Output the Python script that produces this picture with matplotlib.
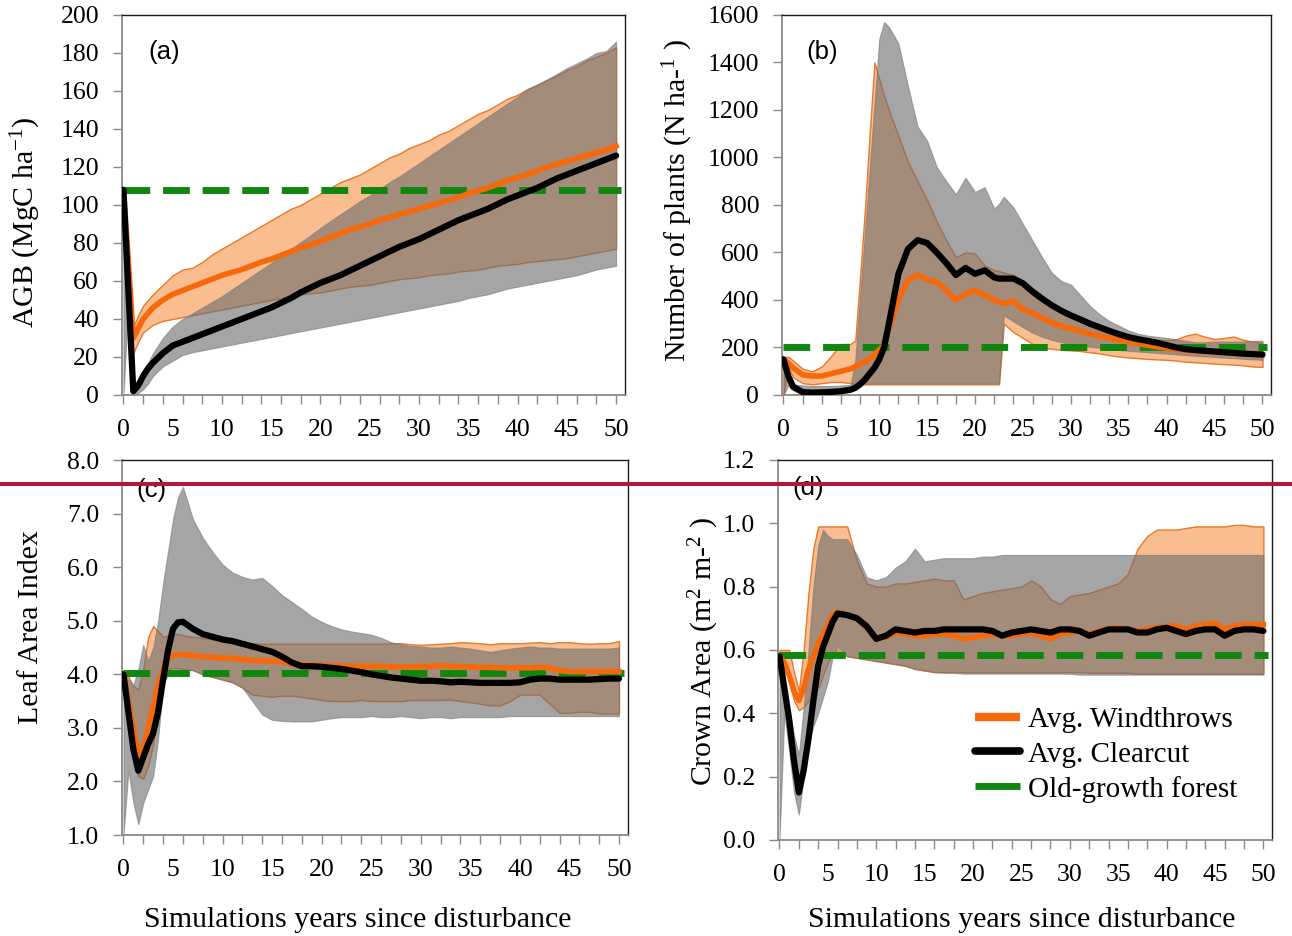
import matplotlib
matplotlib.use("Agg")
import matplotlib.pyplot as plt
from matplotlib.lines import Line2D
from matplotlib.ticker import FixedLocator, FormatStrFormatter

plt.rcParams['font.family'] = ['Liberation Serif', 'DejaVu Serif']
plt.rcParams['mathtext.fontset'] = 'custom'
plt.rcParams['mathtext.rm'] = 'Liberation Serif'
plt.rcParams['mathtext.it'] = 'Liberation Serif:italic'

# ---------------- data ----------------
# (a) above-ground biomass
agb_years = [0, 0.5, 1, 1.5, 2, 2.5, 3] + list(range(4, 51))
agb_clear = [108, 55, 2, 5, 10, 14, 17,
             22, 26, 28, 30, 32, 34, 36, 38, 40, 42, 44, 46,
             48.5, 51, 54, 56.5, 59, 61, 63, 65.5, 68, 70.5,
             73, 75.5, 78, 80, 82, 84.5, 87, 89.5, 92, 94,
             96, 98, 100.5, 103, 105, 107, 109, 111.5, 114, 116,
             118, 120, 122, 124, 126]
agb_clear_hi = [108, 55, 3, 7, 12, 17, 22,
                30, 36, 40, 43, 46, 49, 52, 55.5, 59, 62.5, 66, 69.5,
                73, 77, 80.5, 84, 88, 91.5, 95, 98.5, 102, 105,
                108.5, 112, 115, 118.5, 122, 125.5, 129, 132.5, 136, 139.5,
                143, 146.5, 150, 153.5, 157, 161, 163.5, 166, 169, 172,
                174.5, 177, 180, 181, 186]
agb_clear_lo = [0, 50, 0, 1, 3, 6, 10,
                15, 18, 21, 22.5, 23.5, 24.5, 25.5, 26.5, 27.5, 28.5, 29.5, 30.5,
                31.5, 32.5, 33.5, 34.5, 35.5, 36.5, 37.5, 38.5, 39.5, 40.5,
                41.5, 42.5, 43.5, 44.5, 45.5, 46.5, 47.5, 48.5, 49.5, 51,
                52, 53, 54.5, 56, 57, 58, 59, 60, 61, 62,
                63, 64.5, 66, 67, 68]
agb_wind = [108, 70, 30, 35, 40, 43, 46,
            50, 53, 55, 57, 59, 61, 63, 64.5, 66, 68, 70, 71.5,
            73.5, 75.5, 77.5, 79, 81, 83, 85, 87, 88.5, 90,
            92, 93.5, 95, 96.5, 98, 99.5, 101, 102.5, 104, 106,
            107.5, 109, 111, 113, 114.5, 116, 118, 120, 121.5, 123,
            124.5, 126, 127.5, 129, 131]
agb_wind_hi = [108, 80, 36, 42, 47, 50, 53,
               58, 63, 66, 67, 70, 74, 77, 80, 83, 86, 89, 92,
               95, 98, 100, 103, 106, 109, 112, 114, 116, 119,
               122, 125, 127, 130, 132, 134, 137, 139, 142, 145,
               148, 150, 153, 156, 158, 161, 163, 166, 168, 171,
               173, 176, 178, 180, 183]
agb_wind_lo = [108, 60, 22, 28, 33, 35, 37,
               39, 40, 41, 42, 43, 44, 45, 46, 47, 48, 49, 50,
               51, 52, 53, 53.5, 54, 55, 56, 57, 57.5, 58,
               59, 60, 61, 61.5, 62, 63, 63.5, 64, 65, 65.5,
               66, 67, 68, 68.5, 69, 70, 70.5, 71, 71.5, 72,
               73, 74, 75, 76, 77]
agb_old = 108

# (b) number of plants
plants_years = ([0, 0.5, 1, 2, 3, 4, 5, 6, 7, 7.5, 8, 8.5, 9, 9.5, 10, 10.5, 11]
                + list(range(12, 23)) + [22.5] + list(range(23, 51)))
plants_clear = [150, 80, 35, 12, 10, 11, 13, 16, 22, 30, 45, 65, 90, 115, 150, 200, 300,
                510, 615, 652, 640, 600, 555, 505, 535, 510, 525, 495,
                490,
                490, 490, 470, 435, 405, 378, 355, 335, 318, 300, 285, 270, 256, 244,
                235, 228, 220, 210, 200, 193, 189, 186, 183, 180, 177, 174, 172, 170]
plants_clear_hi = [150, 90, 45, 40, 38, 38, 38, 40, 42, 150, 420, 680, 950, 1230, 1500, 1570, 1550,
                   1480, 1300, 1130, 1070, 960, 900, 845, 915, 855, 875, 785,
                   805,
                   835, 790, 720, 650, 580, 515, 480, 465, 420, 375, 340, 312, 292, 272,
                   258, 250, 245, 240, 235, 228, 222, 222, 225, 225, 225, 225, 228, 228]
plants_clear_lo = [0, 40, 20, 5, 3, 3, 5, 8, 15, 48, 48, 48, 48, 48, 48, 48, 48,
                   48, 48, 48, 48, 48, 48, 48, 48, 48, 48, 48,
                   50,
                   335, 310, 285, 262, 245, 232, 222, 215, 208, 203, 198, 193, 190, 186,
                   183, 180, 177, 174, 171, 168, 165, 162, 160, 157, 155, 152, 150, 148]
plants_wind = [150, 135, 115, 85, 80, 80, 90, 100, 110, 120, 130, 140, 150, 170, 190, 210, 280,
               400, 485, 505, 485, 475, 440, 400, 425, 440, 420, 400,
               392,
               385, 395, 360, 345, 325, 305, 290, 280, 268, 258, 248, 240, 232, 224,
               217, 210, 203, 197, 192, 188, 185, 182, 180, 178, 176, 174, 172, 170]
plants_wind_hi = [160, 160, 145, 110, 100, 120, 165, 215, 215, 230, 500, 780, 1100, 1400, 1330, 1260, 1200,
                  1090, 980, 900, 820, 730, 650, 580, 600, 595, 545, 525,
                  522,
                  515, 505, 480, 450, 420, 390, 360, 335, 312, 292, 276, 262, 250, 242,
                  236, 233, 232, 230, 235, 250, 258, 245, 236, 240, 246, 232, 225, 220]
plants_wind_lo = [0, 120, 75, 50, 45, 50, 55, 55, 50, 45, 45, 45, 45, 45, 45, 45, 45,
                  45, 45, 45, 45, 45, 45, 45, 45, 45, 45, 45,
                  45,
                  300, 265, 240, 215, 200, 195, 190, 188, 185, 180, 175, 168, 162, 158,
                  155, 152, 150, 148, 145, 140, 138, 135, 132, 130, 128, 125, 120, 118]
plants_old = 200

# (c) leaf area index and (d) crown area share one time axis
fine_years = [0, 0.5, 1, 1.5, 2, 2.5, 3, 3.5, 4, 4.5, 5, 5.5, 6] + list(range(7, 51))
lai_clear = [4.0, 3.3, 2.6, 2.2, 2.45, 2.7, 2.9, 3.3, 3.9, 4.45, 4.85, 4.97, 4.98,
             4.85, 4.75, 4.7, 4.65, 4.62, 4.57, 4.52, 4.47, 4.42, 4.33,
             4.22, 4.15, 4.15, 4.14, 4.12, 4.1, 4.07, 4.04, 4.0, 3.97,
             3.94, 3.92, 3.9, 3.88, 3.88, 3.87, 3.85, 3.86, 3.85, 3.84,
             3.84, 3.84, 3.84, 3.85, 3.9, 3.92, 3.92, 3.9, 3.9, 3.9,
             3.9, 3.91, 3.92, 3.92]
lai_clear_hi = [4.0, 3.9, 3.8, 4.1, 4.55, 4.25, 4.5, 5.0, 5.7, 6.3, 6.9, 7.3, 7.5,
                6.9, 6.55, 6.28, 6.05, 5.9, 5.82, 5.77, 5.8, 5.65, 5.48,
                5.35, 5.22, 5.08, 4.98, 4.9, 4.84, 4.8, 4.77, 4.74, 4.68,
                4.6, 4.56, 4.53, 4.52, 4.5, 4.5, 4.52, 4.5, 4.48, 4.45,
                4.42, 4.45, 4.48, 4.5, 4.52, 4.5, 4.5, 4.48, 4.48, 4.48,
                4.48, 4.48, 4.48, 4.5]
lai_clear_lo = [1.0, 2.2, 1.6, 1.2, 1.6, 1.85, 2.1, 2.8, 3.8, 4.0, 4.05, 4.1, 4.1,
                4.08, 4.0, 3.95, 3.9, 3.85, 3.75, 3.5, 3.25, 3.15, 3.13,
                3.12, 3.12, 3.12, 3.15, 3.18, 3.2, 3.2, 3.2, 3.22, 3.2,
                3.2, 3.22, 3.2, 3.18, 3.2, 3.2, 3.18, 3.2, 3.2, 3.2,
                3.2, 3.2, 3.22, 3.22, 3.22, 3.22, 3.22, 3.22, 3.22, 3.22,
                3.22, 3.22, 3.22, 3.22]
lai_wind = [4.0, 3.5, 3.0, 2.5, 2.6, 3.0, 3.4, 3.8, 4.1, 4.3, 4.35, 4.37, 4.37,
            4.35, 4.33, 4.32, 4.3, 4.3, 4.28, 4.26, 4.25, 4.25, 4.23,
            4.2, 4.18, 4.17, 4.17, 4.16, 4.16, 4.15, 4.15, 4.15, 4.15,
            4.14, 4.14, 4.14, 4.14, 4.15, 4.16, 4.15, 4.14, 4.14, 4.13,
            4.13, 4.12, 4.12, 4.12, 4.12, 4.13, 4.12, 4.07, 4.05, 4.05,
            4.05, 4.05, 4.05, 4.05]
lai_wind_hi = [4.0, 3.95, 3.78, 3.72, 4.1, 4.7, 4.9, 4.8, 4.7, 4.72, 4.75, 4.75, 4.73,
               4.7, 4.68, 4.65, 4.62, 4.6, 4.58, 4.58, 4.57, 4.57, 4.57,
               4.57, 4.57, 4.57, 4.57, 4.57, 4.57, 4.57, 4.57, 4.57, 4.57,
               4.58, 4.58, 4.56, 4.55, 4.56, 4.57, 4.58, 4.6, 4.59, 4.58,
               4.56, 4.58, 4.58, 4.58, 4.59, 4.6, 4.58, 4.6, 4.6, 4.58,
               4.57, 4.58, 4.58, 4.62]
lai_wind_lo = [4.0, 3.2, 2.4, 2.1, 2.05, 2.3, 2.7, 3.4, 4.0, 4.1, 4.12, 4.12, 4.1,
               4.08, 4.0, 3.95, 3.9, 3.85, 3.75, 3.62, 3.6, 3.58, 3.6,
               3.6, 3.58, 3.55, 3.52, 3.5, 3.5, 3.5, 3.52, 3.5, 3.5,
               3.5, 3.5, 3.52, 3.52, 3.52, 3.52, 3.53, 3.5, 3.48, 3.45,
               3.42, 3.42, 3.5, 3.62, 3.62, 3.62, 3.45, 3.28, 3.28, 3.3,
               3.3, 3.27, 3.27, 3.27]
lai_old = 4.03

ca_clear = [0.58, 0.48, 0.38, 0.25, 0.15, 0.22, 0.32, 0.44, 0.55, 0.61, 0.65, 0.69, 0.715,
            0.71, 0.70, 0.675, 0.635, 0.645, 0.665, 0.66, 0.655, 0.66, 0.66,
            0.665, 0.665, 0.665, 0.665, 0.665, 0.66, 0.645, 0.655, 0.66, 0.665,
            0.66, 0.655, 0.665, 0.665, 0.66, 0.645, 0.655, 0.665, 0.665, 0.665,
            0.655, 0.655, 0.665, 0.67, 0.66, 0.65, 0.66, 0.665, 0.665, 0.645,
            0.66, 0.665, 0.665, 0.66]
ca_clear_hi = [0.58, 0.5, 0.42, 0.33, 0.27, 0.42, 0.6, 0.8, 0.93, 0.98, 0.96, 0.95, 0.95,
               0.95, 0.9, 0.83, 0.82, 0.83, 0.86, 0.88, 0.92, 0.88, 0.885,
               0.89, 0.89, 0.89, 0.89, 0.895, 0.895, 0.9, 0.9, 0.9, 0.9,
               0.9, 0.9, 0.9, 0.9, 0.9, 0.9, 0.9, 0.9, 0.9, 0.9,
               0.9, 0.9, 0.9, 0.9, 0.9, 0.9, 0.9, 0.9, 0.9, 0.9,
               0.9, 0.9, 0.9, 0.9]
ca_clear_lo = [0.0, 0.4, 0.28, 0.15, 0.08, 0.2, 0.3, 0.36, 0.4, 0.45, 0.5, 0.58, 0.61,
               0.58, 0.575, 0.57, 0.565, 0.56, 0.555, 0.55, 0.54, 0.535, 0.53,
               0.528, 0.528, 0.525, 0.525, 0.525, 0.525, 0.525, 0.525, 0.525, 0.525,
               0.525, 0.525, 0.525, 0.525, 0.522, 0.522, 0.522, 0.522, 0.522, 0.522,
               0.522, 0.522, 0.522, 0.522, 0.522, 0.522, 0.522, 0.522, 0.522, 0.522,
               0.522, 0.522, 0.522, 0.522]
ca_wind = [0.58, 0.56, 0.52, 0.47, 0.44, 0.48, 0.54, 0.58, 0.62, 0.65, 0.68, 0.71, 0.72,
           0.71, 0.70, 0.67, 0.64, 0.64, 0.655, 0.65, 0.645, 0.645, 0.65,
           0.65, 0.645, 0.635, 0.64, 0.645, 0.65, 0.645, 0.645, 0.65, 0.655,
           0.645, 0.635, 0.65, 0.655, 0.66, 0.65, 0.66, 0.665, 0.67, 0.665,
           0.66, 0.665, 0.67, 0.675, 0.675, 0.665, 0.675, 0.68, 0.685, 0.665,
           0.675, 0.68, 0.68, 0.68]
ca_wind_hi = [0.6, 0.6, 0.6, 0.53, 0.47, 0.6, 0.78, 0.92, 0.99, 0.99, 0.99, 0.99, 0.99,
              0.99, 0.88, 0.81, 0.80, 0.80, 0.81, 0.81, 0.815, 0.82, 0.825,
              0.82, 0.82, 0.76, 0.77, 0.78, 0.785, 0.79, 0.795, 0.80, 0.82,
              0.80, 0.76, 0.745, 0.77, 0.775, 0.78, 0.79, 0.80, 0.81, 0.84,
              0.92, 0.96, 0.98, 0.98, 0.98, 0.985, 0.99, 0.99, 0.99, 0.99,
              0.995, 0.995, 0.99, 0.99]
ca_wind_lo = [0.58, 0.56, 0.5, 0.44, 0.41, 0.42, 0.44, 0.46, 0.48, 0.52, 0.56, 0.59, 0.6,
              0.58, 0.575, 0.57, 0.565, 0.56, 0.555, 0.55, 0.54, 0.535, 0.53,
              0.53, 0.53, 0.53, 0.53, 0.53, 0.53, 0.53, 0.53, 0.53, 0.53,
              0.53, 0.53, 0.53, 0.53, 0.53, 0.528, 0.528, 0.528, 0.528, 0.528,
              0.525, 0.525, 0.525, 0.525, 0.525, 0.525, 0.525, 0.525, 0.525, 0.525,
              0.525, 0.525, 0.525, 0.525]
ca_old = 0.585

# ---------------- styling ----------------
ORANGE_FILL = '#F9BD90'
ORANGE_EDGE = '#E9782A'
ORANGE_LINE = '#F7680A'
GRAY_FILL = '#6E6E6E'
GRAY_EDGE = '#7A7A7A'
GREEN = '#0F870F'
AXIS_GRAY = '#8A8A8A'
TICK_SIZE = 18.5
LABEL_SIZE = 21.5


def draw_panel(ax, years, wind, wind_lo, wind_hi, clear, clear_lo, clear_hi, old):
    ax.fill_between(years, wind_lo, wind_hi, facecolor=ORANGE_FILL,
                    edgecolor=ORANGE_EDGE, linewidth=1.0, zorder=1)
    ax.fill_between(years, clear_lo, clear_hi, facecolor=GRAY_FILL, alpha=0.62,
                    edgecolor=GRAY_EDGE, linewidth=0.8, zorder=2)
    ax.hlines(old, years[0], 50.5, colors=GREEN, linewidth=5.0,
              linestyles=(0, (3.85, 1.85)), zorder=3)
    ax.plot(years, wind, color=ORANGE_LINE, linewidth=4.0,
            solid_joinstyle='round', zorder=4)
    ax.plot(years, clear, color='black', linewidth=4.5,
            solid_joinstyle='round', solid_capstyle='round', zorder=5)

    ax.set_xlim(-0.15, 50.9)
    ax.xaxis.set_major_locator(FixedLocator(list(range(0, 51, 5))))
    ax.xaxis.set_minor_locator(FixedLocator(list(range(0, 51, 2))))
    ax.xaxis.remove_overlapping_locs = False
    ax.tick_params(axis='x', which='major', length=0, pad=17, labelsize=TICK_SIZE)
    ax.tick_params(axis='x', which='minor', length=6.5, width=1, color=AXIS_GRAY)
    ax.tick_params(axis='y', which='major', length=6.5, width=1, color=AXIS_GRAY,
                   pad=10, labelsize=TICK_SIZE)
    for side in ('left', 'bottom'):
        ax.spines[side].set_color(AXIS_GRAY)
        ax.spines[side].set_linewidth(1.3)
    for side in ('top', 'right'):
        ax.spines[side].set_color('#1A1A1A')
        ax.spines[side].set_linewidth(1.0)


fig = plt.figure(figsize=(12.92, 9.36), dpi=100)

ax_a = fig.add_axes([0.0944, 0.578, 0.3893, 0.406])
ax_b = fig.add_axes([0.6053, 0.578, 0.3785, 0.406])
ax_c = fig.add_axes([0.0944, 0.1079, 0.3916, 0.4006])
ax_d = fig.add_axes([0.6022, 0.1026, 0.3824, 0.406])

draw_panel(ax_a, agb_years, agb_wind, agb_wind_lo, agb_wind_hi,
           agb_clear, agb_clear_lo, agb_clear_hi, agb_old)
ax_a.set_ylim(0, 200)
ax_a.yaxis.set_major_locator(FixedLocator(list(range(0, 201, 20))))
ax_a.set_ylabel(r'AGB (MgC ha$^{-1}$)', fontsize=LABEL_SIZE, va='center')
ax_a.yaxis.set_label_coords(-0.19, 0.455)

draw_panel(ax_b, plants_years, plants_wind, plants_wind_lo, plants_wind_hi,
           plants_clear, plants_clear_lo, plants_clear_hi, plants_old)
ax_b.set_ylim(0, 1600)
ax_b.yaxis.set_major_locator(FixedLocator(list(range(0, 1601, 200))))
ax_b.set_ylabel(r'Number of plants (N ha-$^{1}$ )', fontsize=LABEL_SIZE, va='center')
ax_b.yaxis.set_label_coords(-0.212, 0.513)

draw_panel(ax_c, fine_years, lai_wind, lai_wind_lo, lai_wind_hi,
           lai_clear, lai_clear_lo, lai_clear_hi, lai_old)
ax_c.set_ylim(1, 8)
ax_c.yaxis.set_major_locator(FixedLocator([1, 2, 3, 4, 5, 6, 7, 8]))
ax_c.yaxis.set_major_formatter(FormatStrFormatter('%.1f'))
ax_c.set_ylabel('Leaf Area Index', fontsize=LABEL_SIZE, va='center')
ax_c.yaxis.set_label_coords(-0.18, 0.555)

draw_panel(ax_d, fine_years, ca_wind, ca_wind_lo, ca_wind_hi,
           ca_clear, ca_clear_lo, ca_clear_hi, ca_old)
ax_d.set_ylim(0, 1.2)
ax_d.yaxis.set_major_locator(FixedLocator([0, 0.2, 0.4, 0.6, 0.8, 1.0, 1.2]))
ax_d.yaxis.set_major_formatter(FormatStrFormatter('%.1f'))
ax_d.set_ylabel(r'Crown Area (m$^{2}$ m-$^{2}$ )', fontsize=LABEL_SIZE, va='center')
ax_d.yaxis.set_label_coords(-0.15, 0.497)

for ax, xc, yc in ((ax_c, 0.466, -0.227), (ax_d, 0.494, -0.21)):
    ax.set_xlabel('Simulations years since disturbance', fontsize=LABEL_SIZE, va='center')
    ax.xaxis.set_label_coords(xc, yc)

for ax, lab, x, y in ((ax_a, '(a)', 0.083, 0.903), (ax_b, '(b)', 0.083, 0.903),
                      (ax_c, '(c)', 0.059, 0.92), (ax_d, '(d)', 0.061, 0.925)):
    ax.text(x, y, lab, transform=ax.transAxes, fontsize=18.5,
            family=['Liberation Sans', 'DejaVu Sans'], ha='center', va='center')

# legend keys drawn as plain strokes, like the original
legend_keys = [Line2D([], [], color=ORANGE_LINE, linewidth=6, solid_capstyle='butt'),
               Line2D([], [], color='black', linewidth=5.5, solid_capstyle='round'),
               Line2D([], [], color=GREEN, linewidth=5, solid_capstyle='butt')]
ax_d.legend(legend_keys, ['Avg. Windthrows', 'Avg. Clearcut', 'Old-growth forest'],
            loc='upper left', bbox_to_anchor=(0.399, 0.35), frameon=False,
            fontsize=21, handlelength=1.55, handletextpad=0.25, labelspacing=0.27,
            borderpad=0, borderaxespad=0)

# red marker line crossing the whole figure
fig.add_artist(Line2D([0, 1], [0.483, 0.483], transform=fig.transFigure,
                      color='#B3173F', linewidth=2.9))

fig.savefig('out.png', dpi=100)
